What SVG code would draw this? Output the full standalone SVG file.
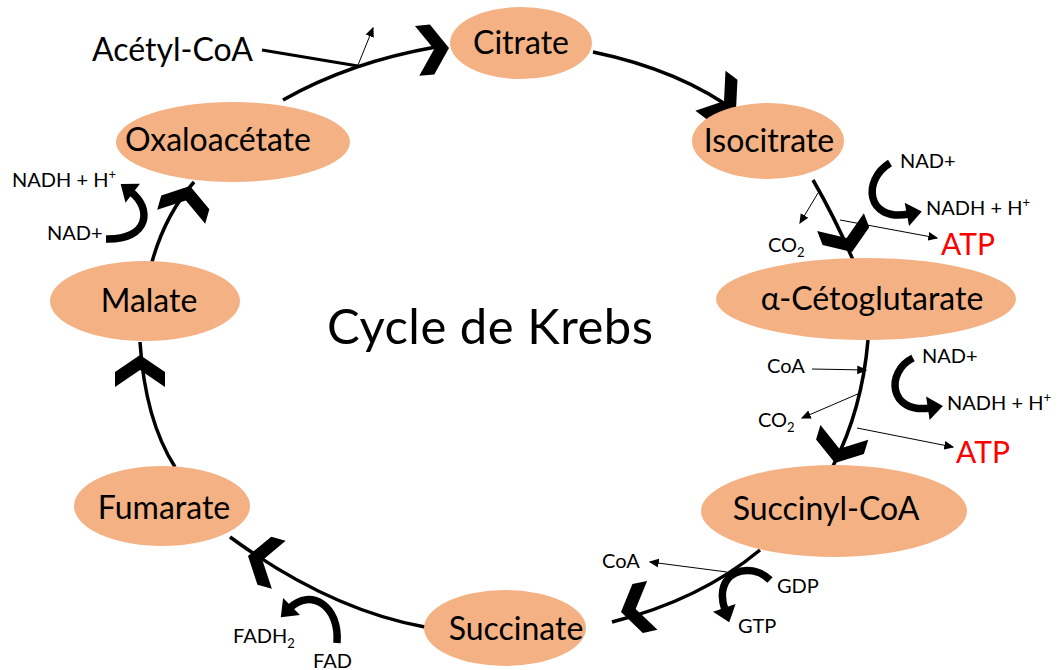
<svg xmlns="http://www.w3.org/2000/svg" width="1061" height="670" viewBox="0 0 1061 670">
<style>
.node{fill:#F4B183}
.lbl{font-family:Lato,"Open Sans","Liberation Sans",sans-serif;font-size:32px;fill:#000;text-anchor:middle}
.sm{font-family:Lato,"Open Sans","Liberation Sans",sans-serif;font-size:20px;fill:#000}
.atp{font-family:Lato,"Open Sans","Liberation Sans",sans-serif;font-size:30px;fill:#FF0000}
.title{font-family:Lato,"Open Sans","Liberation Sans",sans-serif;font-size:49px;fill:#000}
.arc{fill:none;stroke:#000;stroke-width:3.5}
.thin{fill:none;stroke:#000;stroke-width:1;marker-end:url(#small)}
.curv{fill:none;stroke:#000;stroke-width:7.5;marker-end:url(#big)}
</style>
<defs>
<path id="chev" d="M0,0 L-17,-25 L-32,-25 L-15,0 L-32,25 L-17,25 Z" fill="#000"/>
<marker id="small" markerUnits="userSpaceOnUse" markerWidth="10" markerHeight="10" viewBox="0 -4 8 8" refX="7" refY="0" orient="auto">
<path d="M0,-3.5 L8,0 L0,3.5 Z" fill="#000"/>
</marker>
<marker id="big" markerUnits="userSpaceOnUse" markerWidth="17" markerHeight="26" viewBox="0 -12 15 24" refX="2" refY="0" orient="auto">
<path d="M0,-11 L14,0 L0,11 Z" fill="#000"/>
</marker>
</defs>
<g id="connectors">
<path class="arc" d="M283 100 Q350 62 436 47"/>
<path class="arc" d="M593 52 Q680 70 738 113"/>
<path class="arc" d="M813 180 Q835 218 853 260"/>
<path class="arc" d="M868 340 Q862 410 833 466"/>
<path class="arc" d="M760 550 Q700 600 612 622"/>
<path class="arc" d="M425 627 Q330 610 230 537"/>
<path class="arc" d="M175 467 Q145 420 140 342"/>
<path class="arc" d="M152 262 Q165 215 194 182"/>
<use href="#chev" transform="translate(449 48) rotate(-5)"/>
<use href="#chev" transform="translate(736 110) rotate(37)"/>
<use href="#chev" transform="translate(852 252) rotate(69)"/>
<use href="#chev" transform="translate(835 463) rotate(107)"/>
<use href="#chev" transform="translate(621 612) rotate(168)"/>
<use href="#chev" transform="translate(248 556) rotate(196)"/>
<use href="#chev" transform="translate(140 355) rotate(-90)"/>
<use href="#chev" transform="translate(190 186) rotate(-74)"/>
<path d="M262 50 L358 66" fill="none" stroke="#000" stroke-width="3"/>
<path class="thin" d="M358 65 L373 28"/>
<path class="thin" d="M818 193 L800 223"/>
<path class="thin" d="M840 220 L937 238"/>
<path class="thin" d="M812 369 L866 370"/>
<path class="thin" d="M860 393 L802 418"/>
<path class="thin" d="M857 428 L953 447"/>
<path class="thin" d="M727 572 L650 562"/>
<path class="curv" d="M890 163 C862 180 866 222 909 214"/>
<path class="curv" d="M913 358 C885 372 889 414 930 408"/>
<path class="curv" d="M770 580 C750 560 712 572 725 610"/>
<path class="curv" d="M337 643 C340 605 310 588 290 608"/>
<path class="curv" d="M106 239 C150 240 152 208 131 192"/>
</g>
<g id="citrate"><ellipse class="node" cx="521" cy="43" rx="71" ry="36"/><text class="lbl" x="521" y="54">Citrate</text></g>
<g id="isocitrate"><ellipse class="node" cx="768" cy="141" rx="76" ry="38"/><text class="lbl" x="769" y="152">Isocitrate</text></g>
<g id="alpha-cetoglutarate"><ellipse class="node" cx="866" cy="299" rx="150" ry="41"/><text class="lbl" x="872" y="310">α-Cétoglutarate</text></g>
<g id="succinyl-coa"><ellipse class="node" cx="834" cy="511" rx="133" ry="46"/><text class="lbl" x="826" y="520">Succinyl-CoA</text></g>
<g id="succinate"><ellipse class="node" cx="505" cy="628" rx="81" ry="38"/><text class="lbl" x="516" y="640">Succinate</text></g>
<g id="fumarate"><ellipse class="node" cx="162" cy="506" rx="88" ry="40"/><text class="lbl" x="164" y="519">Fumarate</text></g>
<g id="malate"><ellipse class="node" cx="145" cy="301" rx="95" ry="40"/><text class="lbl" x="149" y="312">Malate</text></g>
<g id="oxaloacetate"><ellipse class="node" cx="233" cy="142" rx="117" ry="40"/><text class="lbl" x="218" y="151">Oxaloacétate</text></g>
<g id="labels">
<text class="lbl" x="92" y="61" style="text-anchor:start">Acétyl-CoA</text>
<text class="title" x="327" y="344" textLength="326">Cycle de Krebs</text>
<text class="sm" x="900" y="168">NAD+</text>
<text class="sm" x="926" y="215">NADH + H<tspan font-size="13" dy="-8">+</tspan></text>
<text class="atp" x="941" y="255">ATP</text>
<text class="sm" x="768" y="252">CO<tspan font-size="13" dy="5">2</tspan></text>
<text class="sm" x="767" y="373">CoA</text>
<text class="sm" x="758" y="427">CO<tspan font-size="13" dy="5">2</tspan></text>
<text class="sm" x="922" y="363">NAD+</text>
<text class="sm" x="947" y="410">NADH + H<tspan font-size="13" dy="-8">+</tspan></text>
<text class="atp" x="956" y="463">ATP</text>
<text class="sm" x="602" y="568">CoA</text>
<text class="sm" x="777" y="593">GDP</text>
<text class="sm" x="738" y="633">GTP</text>
<text class="sm" x="233" y="643">FADH<tspan font-size="13" dy="5">2</tspan></text>
<text class="sm" x="313" y="668">FAD</text>
<text class="sm" x="12" y="187">NADH + H<tspan font-size="13" dy="-8">+</tspan></text>
<text class="sm" x="47" y="240">NAD+</text>
</g>
</svg>
